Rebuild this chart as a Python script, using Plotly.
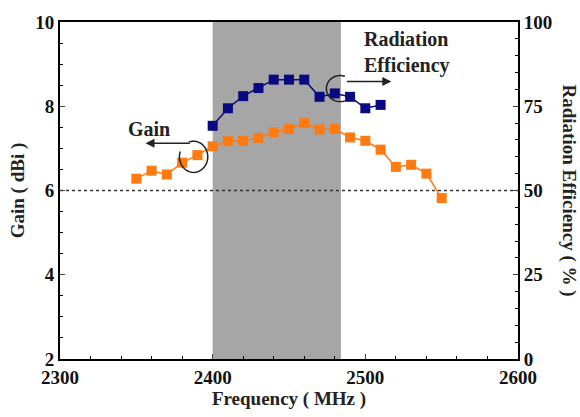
import numpy as np
import plotly.graph_objects as go

freq_gain = [2350, 2360, 2370, 2380, 2390, 2400, 2410, 2420, 2430, 2440, 2450,
             2460, 2470, 2480, 2490, 2500, 2510, 2520, 2530, 2540, 2550]
gain = [6.28, 6.47, 6.38, 6.66, 6.84, 7.05, 7.17, 7.18, 7.25, 7.38, 7.46,
        7.60, 7.45, 7.46, 7.26, 7.18, 6.97, 6.56, 6.61, 6.40, 5.82]
freq_eff = [2400, 2410, 2420, 2430, 2440, 2450, 2460, 2470, 2480, 2490, 2500, 2510]
eff = [69.2, 74.4, 78.0, 80.4, 82.9, 82.9, 82.9, 77.8, 78.8, 77.8, 74.4, 75.4]

band = [2400, 2484]
ref_gain = 6

FONT = "Liberation Serif"
ORANGE = "#FF7A10"
NAVY = "#0A0A80"
TXT = "#222222"

fig = go.Figure()
fig.add_trace(go.Scatter(x=freq_gain, y=gain, mode="lines+markers",
                         line=dict(color=ORANGE, width=1.5),
                         marker=dict(symbol="square", size=10, color=ORANGE),
                         yaxis="y", showlegend=False))
fig.add_trace(go.Scatter(x=freq_eff, y=eff, mode="lines+markers",
                         line=dict(color=NAVY, width=1.5),
                         marker=dict(symbol="square", size=10, color=NAVY),
                         yaxis="y2", showlegend=False))

shapes = [
    dict(type="rect", xref="x", yref="paper", x0=band[0], x1=band[1], y0=0, y1=1,
         fillcolor="#A6A6A6", line=dict(width=0), layer="below"),
    dict(type="line", xref="paper", yref="y", x0=0, x1=1, y0=ref_gain, y1=ref_gain,
         line=dict(color="#333333", width=1.5, dash="dot"), layer="below"),
]

def arc_path(cx, cy, rx, ry, a0, a1, n=40):
    t = np.radians(np.linspace(a0, a1, n))
    xs = cx + rx * np.cos(t)
    ys = cy + ry * np.sin(t)
    return "M " + " L ".join(f"{x:.2f},{y:.3f}" for x, y in zip(xs, ys))

# Gain callout arc (opening on the left)
shapes.append(dict(type="path", xref="x", yref="y",
                   path=arc_path(2387.5, 6.80, 9.3, 0.37, 110, -200),
                   line=dict(color=TXT, width=1.5)))
# Efficiency callout arc (opening on the right)
shapes.append(dict(type="path", xref="x", yref="y",
                   path=arc_path(2483.5, 8.42, 9.0, 0.31, 70, 290),
                   line=dict(color=TXT, width=1.5)))

big = dict(family=FONT, size=20, color=TXT, weight="bold")
annotations = [
    dict(x=2356, y=7.12, ax=2386, ay=7.12, xref="x", yref="y", axref="x", ayref="y",
         text="", showarrow=True, arrowhead=2, arrowsize=1.2, arrowwidth=1.5, arrowcolor=TXT),
    dict(x=2517, y=8.59, ax=2487, ay=8.59, xref="x", yref="y", axref="x", ayref="y",
         text="", showarrow=True, arrowhead=2, arrowsize=1.2, arrowwidth=1.5, arrowcolor=TXT),
    dict(x=2358, y=7.47, xref="x", yref="y", text="Gain", showarrow=False, font=big),
    dict(x=2498, y=9.27, xref="x", yref="y", text="Radiation<br>Efficiency", showarrow=False,
         xanchor="left", align="left", font=big),
    dict(x=1.0, y=0.5, xref="paper", yref="paper", xshift=51, text="Radiation Efficiency ( % )",
         textangle=90, showarrow=False, xanchor="center", yanchor="middle",
         font=dict(family=FONT, size=19, color=TXT, weight="bold")),
]

tickfont = dict(family=FONT, size=19, color="#111111", weight="bold")
titlefont = dict(family=FONT, size=19, color=TXT, weight="bold")
fig.update_layout(
    width=580, height=417,
    margin=dict(l=60, r=62, t=18, b=52),
    paper_bgcolor="white", plot_bgcolor="white",
    shapes=shapes, annotations=annotations,
    xaxis=dict(range=[2300, 2600], dtick=100, tick0=2300, ticks="inside", ticklen=5,
               showline=True, linecolor="black", linewidth=2, mirror=True,
               showgrid=False, zeroline=False, tickfont=tickfont,
               minor=dict(dtick=20, ticks="inside", ticklen=3, tickcolor="black"),
               title=dict(text="Frequency ( MHz )", font=titlefont, standoff=4)),
    yaxis=dict(range=[2, 10], dtick=2, ticks="inside", ticklen=5,
               showline=True, linecolor="black", linewidth=2,
               showgrid=False, zeroline=False, tickfont=tickfont,
               minor=dict(dtick=0.5, ticks="inside", ticklen=3, tickcolor="black"),
               title=dict(text="Gain ( dBi )", font=titlefont, standoff=6)),
    yaxis2=dict(range=[0, 100], dtick=25, ticks="inside", ticklen=5, overlaying="y", side="right",
                showline=True, linecolor="black", linewidth=2,
                showgrid=False, zeroline=False, tickfont=tickfont,
                minor=dict(dtick=5, ticks="inside", ticklen=3, tickcolor="black")),
)

fig.write_html("out.html")
